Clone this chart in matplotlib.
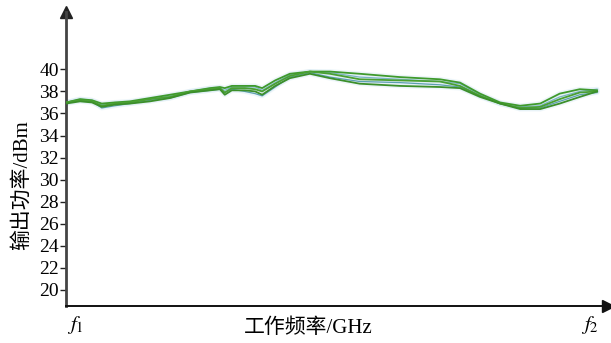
import numpy as np
import matplotlib.pyplot as plt

plt.rcParams['font.family'] = ['Liberation Serif', 'Noto Sans CJK SC']
plt.rcParams['mathtext.fontset'] = 'stix'

# normalised position in the band (0 = origin of the axis, 1 = arrow tip)
freq = [0.000, 0.026, 0.048, 0.066, 0.090, 0.118, 0.155, 0.192, 0.229, 0.266,
        0.284, 0.293, 0.306, 0.330, 0.349, 0.362, 0.386, 0.413, 0.450, 0.487,
        0.542, 0.616, 0.690, 0.727, 0.764, 0.801, 0.838, 0.875, 0.911, 0.948, 0.980]

# measured output power, dBm
p1 = [37.0, 37.3, 37.2, 36.9, 37.0, 37.1, 37.4, 37.7, 38.0, 38.3, 38.4, 38.3, 38.5, 38.5, 38.5, 38.3,
      39.0, 39.6, 39.8, 39.8, 39.6, 39.3, 39.1, 38.8, 37.8, 37.0, 36.7, 36.9, 37.8, 38.2, 38.1]
p2 = [37.0, 37.2, 37.1, 36.7, 36.9, 37.0, 37.3, 37.5, 38.0, 38.2, 38.3, 37.9, 38.3, 38.3, 38.2, 38.0,
      38.7, 39.4, 39.8, 39.6, 39.1, 39.0, 38.9, 38.5, 37.6, 36.9, 36.5, 36.6, 37.3, 37.9, 38.0]
p3 = [36.9, 37.1, 37.0, 36.6, 36.8, 36.9, 37.1, 37.4, 37.9, 38.1, 38.2, 37.7, 38.1, 38.1, 38.0, 37.7,
      38.5, 39.2, 39.6, 39.2, 38.7, 38.5, 38.4, 38.3, 37.5, 36.9, 36.4, 36.4, 36.9, 37.5, 38.0]
p4 = [37.0, 37.2, 37.1, 36.5, 36.7, 36.9, 37.2, 37.4, 37.9, 38.1, 38.2, 37.9, 38.2, 38.0, 37.8, 37.6,
      38.4, 39.3, 39.7, 39.3, 38.9, 38.8, 38.6, 38.4, 37.6, 36.9, 36.5, 36.5, 37.1, 37.7, 37.9]
p5 = [37.0, 37.3, 37.2, 36.8, 37.0, 37.0, 37.3, 37.6, 38.0, 38.3, 38.3, 38.1, 38.4, 38.4, 38.4, 38.1,
      38.8, 39.5, 39.8, 39.7, 39.3, 39.1, 38.9, 38.7, 37.7, 36.9, 36.6, 36.7, 37.5, 38.0, 38.2]

yticks = np.arange(20, 41, 2)
band_pos = [0.017, 0.967]
band_labels = ['$f_1$', '$f_2$']

fig = plt.figure(figsize=(6.11, 3.43), dpi=100)
ax = fig.add_axes([0.108, 0.108, 0.887, 0.857])

green = ['#3f9a2c', '#4aa032', '#3c8f2a']
blue = ['#5c9fb0', '#7ab4c4']

# pale halo under every trace
for p in [p1, p2, p3, p4, p5]:
    ax.plot(freq, p, color='#dcedf5', lw=3.5, alpha=0.5, solid_capstyle='round', zorder=1)
for p, c in zip([p4, p5], blue):
    ax.plot(freq, p, color=c, lw=0.9, zorder=2)
for p, c in zip([p1, p2, p3], green):
    ax.plot(freq, p, color=c, lw=1.3, zorder=3)

ax.set_xlim(0, 1)
ax.set_ylim(18.55, 45.2)
ax.set_yticks(yticks)
ax.set_yticklabels([str(v) for v in yticks], fontsize=14)
ax.set_xticks(band_pos)
ax.set_xticklabels(band_labels, fontsize=15)
ax.tick_params(axis='y', direction='out', length=4, width=1, pad=1, color='#222222')
ax.tick_params(axis='x', length=0, pad=6)

for s in ['top', 'right']:
    ax.spines[s].set_visible(False)
ax.spines['left'].set_color('#444444')
ax.spines['left'].set_linewidth(2)
ax.spines['bottom'].set_color('#111111')
ax.spines['bottom'].set_linewidth(1.4)

# arrow heads on both axes
ax.plot(0, 1, marker='^', color='#222222', ms=9, transform=ax.transAxes, clip_on=False)
ax.plot(1, 0, marker='>', color='#111111', ms=8, transform=ax.transAxes, clip_on=False)

fig.text(308 / 611, 1 - 328 / 343, '工作频率/GHz', fontsize=15, ha='center', va='center')
fig.text(22 / 611, 1 - 185 / 343, '输出功率/dBm', fontsize=15, ha='center', va='center',
         rotation=90)

fig.savefig('out.png', dpi=100)
